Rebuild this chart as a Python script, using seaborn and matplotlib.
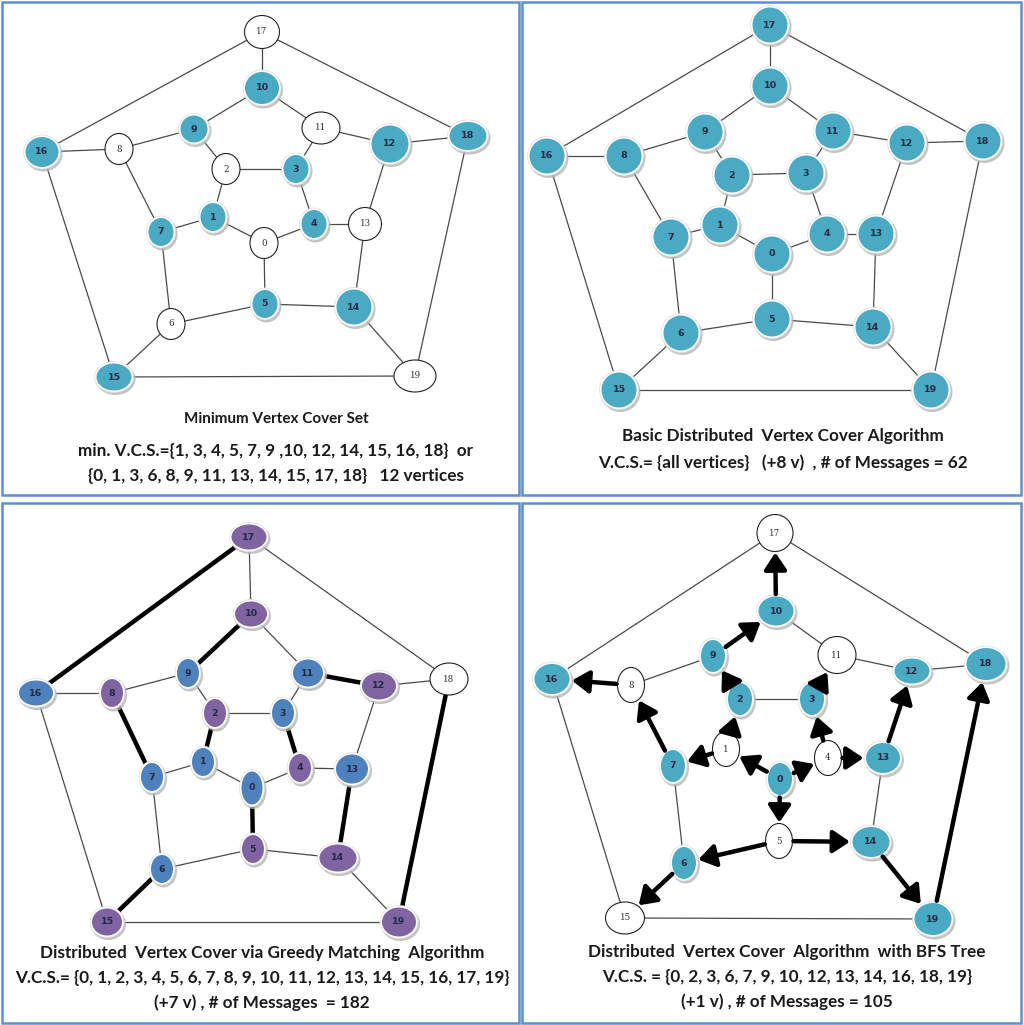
import numpy as np
import pandas as pd
import seaborn as sns
import matplotlib.pyplot as plt
from matplotlib.patches import Ellipse, Rectangle, FancyArrowPatch

# dodecahedron graph, same in all four panels
edges = [(0, 1), (0, 4), (0, 5), (1, 2), (1, 7), (2, 3), (2, 9), (3, 4), (3, 11), (4, 13),
         (5, 6), (5, 14), (6, 7), (6, 15), (7, 8), (8, 9), (8, 16), (9, 10), (10, 11), (10, 17),
         (11, 12), (12, 13), (12, 18), (13, 14), (14, 19), (15, 16), (15, 19), (16, 17), (17, 18), (18, 19)]

# node layout (pixels), index = vertex id
p1_x = [264, 213, 226, 296, 314, 265, 171, 161, 119, 194, 262, 321, 390, 365, 354, 114, 42, 262, 468, 415]
p1_y = [243, 217, 169, 169, 224, 304, 324, 232, 149, 129, 88, 128, 144, 224, 307, 377, 152, 32, 136, 376]
p2_x = [772, 720, 732, 806, 827, 772, 681, 671, 624, 705, 770, 833, 907, 876, 873, 619, 547, 770, 983, 931]
p2_y = [254, 225, 175, 173, 234, 319, 333, 237, 156, 132, 86, 131, 143, 234, 327, 390, 156, 25, 141, 390]
p3_x = [252, 203, 215, 283, 300, 253, 162, 152, 112, 188, 251, 308, 379, 352, 338, 107, 36, 249, 449, 399]
p3_y = [788, 762, 713, 713, 768, 849, 869, 777, 693, 673, 614, 673, 686, 769, 858, 922, 693, 537, 679, 922]
p4_x = [780, 726, 740, 812, 828, 779, 684, 673, 631, 713, 776, 837, 912, 883, 871, 625, 552, 775, 986, 933]
p4_y = [779, 749, 699, 699, 758, 841, 863, 766, 685, 656, 611, 655, 671, 758, 842, 918, 679, 533, 664, 919]

# vertex cover membership per panel
p1_cover = [1, 3, 4, 5, 7, 9, 10, 12, 14, 15, 16, 18]
p2_cover = list(range(20))
p3_purple = [2, 4, 5, 8, 10, 12, 14, 15, 17, 19]
p3_blue = [0, 1, 3, 6, 7, 9, 11, 13, 16]
p3_matching = [(16, 17), (9, 10), (11, 12), (7, 8), (1, 2), (3, 4), (0, 5), (13, 14), (6, 15), (18, 19)]
p4_cover = [0, 2, 3, 6, 7, 9, 10, 12, 13, 14, 16, 18, 19]
p4_tree = [(0, 1), (0, 4), (0, 5), (1, 7), (1, 2), (4, 3), (4, 13), (2, 9), (3, 11), (9, 10),
           (10, 17), (7, 8), (8, 16), (13, 12), (5, 6), (5, 14), (6, 15), (14, 19), (19, 18)]

captions = {
    1: (276, ["Minimum Vertex Cover Set",
              "min. V.C.S.={1, 3, 4, 5, 7, 9 ,10, 12, 14, 15, 16, 18}  or",
              "{0, 1, 3, 6, 8, 9, 11, 13, 14, 15, 17, 18}   12 vertices"], [419, 451, 476]),
    2: (783, ["Basic Distributed  Vertex Cover Algorithm",
              "V.C.S.= {all vertices}   (+8 v)  , # of Messages = 62"], [436, 463]),
    3: (262, ["Distributed  Vertex Cover via Greedy Matching  Algorithm",
              "V.C.S.= {0, 1, 2, 3, 4, 5, 6, 7, 8, 9, 10, 11, 12, 13, 14, 15, 16, 17, 19}",
              "(+7 v) , # of Messages  = 182"], [953, 978, 1003]),
    4: (787, ["Distributed  Vertex Cover  Algorithm  with BFS Tree",
              "V.C.S. = {0, 2, 3, 6, 7, 9, 10, 12, 13, 14, 16, 18, 19}",
              "(+1 v) , # of Messages = 105"], [952, 977, 1002]),
}

# node sizes (width, height) per panel: base plus a few larger ones
size_base = {1: (28, 31), 2: (38, 38), 3: (25, 31), 4: (27, 35)}
size_over = {
    1: {17: (35, 33), 10: (37, 35), 11: (38, 32), 12: (40, 40), 13: (33, 33), 14: (38, 38),
        16: (36, 33), 18: (40, 31), 15: (38, 30), 19: (42, 32), 9: (30, 30)},
    2: {},
    3: {17: (38, 28), 10: (35, 28), 11: (33, 30), 12: (37, 30), 18: (38, 32), 16: (37, 28),
        13: (35, 32), 14: (40, 30), 15: (33, 30), 19: (37, 32), 0: (24, 36)},
    4: {17: (36, 37), 10: (38, 32), 11: (38, 37), 12: (38, 28), 18: (42, 35), 16: (38, 33),
        13: (37, 33), 14: (40, 33), 15: (39, 32), 19: (40, 35)},
}

TEAL, PURPLE, BLUE = "#4aaac4", "#8064a2", "#4f81bd"

sns.set_theme(style="white")
plt.rcParams["font.family"] = ["Lato", "DejaVu Sans"]

fig = plt.figure(figsize=(10.24, 10.25), dpi=100)
ax = fig.add_axes([0, 0, 1, 1])
ax.set_xlim(0, 1024)
ax.set_ylim(1025, 0)
ax.axis("off")

# panel frames
for (x0, y0, w, h) in [(2, 2, 517, 493), (522, 2, 499, 493), (2, 503, 517, 520), (522, 503, 499, 520)]:
    ax.add_patch(Rectangle((x0, y0), w, h, fill=False, ec="#5b8ed3", lw=1.8, zorder=0))


def node_colors(panel):
    cols = []
    for v in range(20):
        if panel == 1:
            cols.append(TEAL if v in p1_cover else "white")
        elif panel == 2:
            cols.append(TEAL)
        elif panel == 3:
            cols.append(PURPLE if v in p3_purple else BLUE if v in p3_blue else "white")
        else:
            cols.append(TEAL if v in p4_cover else "white")
    return cols


def node_size(panel, v):
    return size_over[panel].get(v, size_base[panel])


def boundary(panel, v, dx, dy):
    w, h = node_size(panel, v)
    a, b = w / 2, h / 2
    return 1.0 / np.sqrt((dx / a) ** 2 + (dy / b) ** 2)


panels = {1: (p1_x, p1_y), 2: (p2_x, p2_y), 3: (p3_x, p3_y), 4: (p4_x, p4_y)}

for panel, (xs, ys) in panels.items():
    special = []
    if panel == 3:
        special = [tuple(sorted(e)) for e in p3_matching]
    if panel == 4:
        special = [tuple(sorted(e)) for e in p4_tree]
    thin = [e for e in edges if tuple(sorted(e)) not in special]

    rows = []
    for k, (a, b) in enumerate(thin):
        rows.append({"edge": k, "x": xs[a], "y": ys[a]})
        rows.append({"edge": k, "x": xs[b], "y": ys[b]})
    edf = pd.DataFrame(rows)
    sns.lineplot(data=edf, x="x", y="y", units="edge", estimator=None, sort=False,
                 color="#4a4a4a", lw=0.9, legend=False, ax=ax, zorder=1)

    if panel == 3:
        for (a, b) in p3_matching:
            ax.plot([xs[a], xs[b]], [ys[a], ys[b]], color="black", lw=3.2,
                    solid_capstyle="butt", zorder=1.5)

    if panel == 4:
        for (a, b) in p4_tree:
            dx, dy = xs[b] - xs[a], ys[b] - ys[a]
            d = np.hypot(dx, dy)
            ux, uy = dx / d, dy / d
            ra = boundary(panel, a, ux, uy) + 1
            rb = boundary(panel, b, ux, uy) + 1
            arr = FancyArrowPatch((xs[a] + ux * ra, ys[a] + uy * ra),
                                  (xs[b] - ux * rb, ys[b] - uy * rb),
                                  arrowstyle="-|>,head_length=0.6,head_width=0.4",
                                  mutation_scale=17, lw=3.2, color="black",
                                  shrinkA=0, shrinkB=0, zorder=4)
            ax.add_patch(arr)

    cols = node_colors(panel)
    for v in range(20):
        w, h = node_size(panel, v)
        c = cols[v]
        if c == "white":
            ax.add_patch(Ellipse((xs[v], ys[v]), w, h, fc="white", ec="#222222", lw=0.8, zorder=3))
            ax.text(xs[v], ys[v], str(v), ha="center", va="center", fontsize=6.3,
                    family="DejaVu Serif", color="#333333", zorder=5)
        else:
            ax.add_patch(Ellipse((xs[v] + 1.5, ys[v] + 2), w + 2, h + 2, fc="#b5b5b5",
                                 ec="none", alpha=0.8, zorder=2.5))
            ax.add_patch(Ellipse((xs[v], ys[v]), w + 1, h + 1, fc="white", ec="#dddddd",
                                 lw=0.5, zorder=2.8))
            ax.add_patch(Ellipse((xs[v], ys[v]), w - 3, h - 3, fc=c, ec="none", zorder=3))
            ax.text(xs[v], ys[v], str(v), ha="center", va="center", fontsize=6.8,
                    fontweight="bold", family="DejaVu Sans", color="#1f2a44", zorder=5)

    cx, lines, ly = captions[panel]
    for i, (t, yy) in enumerate(zip(lines, ly)):
        fs = 11 if (panel == 1 and i == 0) else 12.3
        ax.text(cx, yy, t, ha="center", va="center", fontsize=fs, fontweight="bold",
                color="#1a1a1a", zorder=6)

fig.savefig("out.png", dpi=100)
